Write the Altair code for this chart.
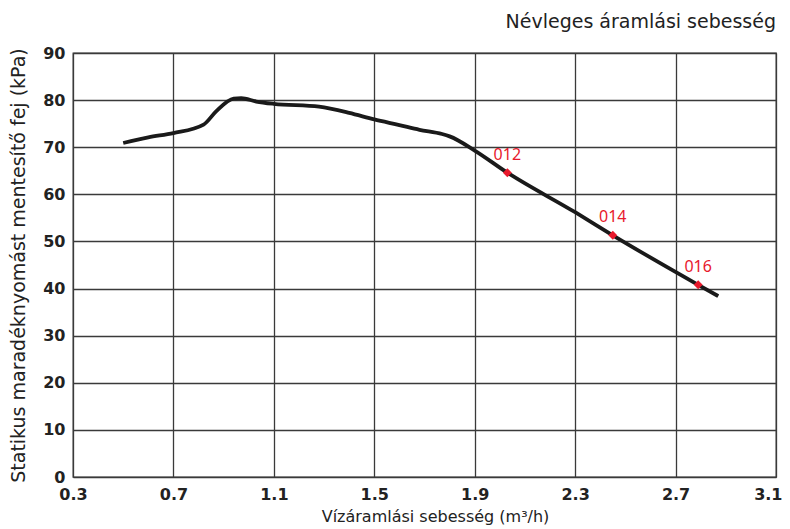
import altair as alt
import pandas as pd

# Curve
flow = [0.5, 0.6, 0.7, 0.82, 0.87, 0.94, 0.97, 1.03, 1.1, 1.28, 1.4, 1.5, 1.6,
        1.68, 1.77, 1.8, 1.9, 2.03, 2.3, 2.45, 2.79, 2.87]
head = [70.9, 72.1, 73.0, 74.8, 77.6, 80.3, 80.4, 79.7, 79.2, 78.6, 77.3, 75.9,
        74.7, 73.7, 72.8, 72.3, 69.3, 64.6, 56.2, 51.3, 40.8, 38.4]

# Nominal flow points
point_labels = ["012", "014", "016"]
point_flow = [2.03, 2.45, 2.79]
point_head = [64.6, 51.3, 40.8]

x_ticks = [0.3, 0.7, 1.1, 1.5, 1.9, 2.3, 2.7, 3.1]
y_ticks = [0, 10, 20, 30, 40, 50, 60, 70, 80, 90]

curve = pd.DataFrame({"flow": flow, "head": head})
pts = pd.DataFrame({"label": point_labels, "flow": point_flow, "head": point_head})

xscale = alt.Scale(domain=[0.3, 3.1], nice=False, zero=False)
yscale = alt.Scale(domain=[0, 90], nice=False)

GRID = "#3a3a3a"

xaxis = alt.Axis(
    values=x_ticks, format=".1f", grid=True,
    gridColor=GRID, gridOpacity=1, gridWidth=1.3, domain=False,
    title="Vízáramlási sebesség (m³/h)",
    titleX=362, titleY=44, titleAlign="center", titleBaseline="alphabetic",
    titleFont="DejaVu Sans", titleFontSize=16, titleFontWeight="normal", titleColor="#222222",
    labelFont="DejaVu Sans", labelFontSize=16, labelFontWeight="bold", labelColor="#222222",
    labelPadding=9, ticks=False, labelFlush=False, labelOverlap=False,
    labelAlign=alt.condition("datum.value > 3", alt.value("right"), alt.value("center")),
    labelOffset=alt.condition("datum.value > 3", alt.value(6), alt.value(0)),
)
yaxis = alt.Axis(
    values=y_ticks, grid=True,
    gridColor=GRID, gridOpacity=1, gridWidth=1.3, domain=False,
    title="Statikus maradéknyomást mentesítő fej (kPa)",
    titleX=-55, titleY=212, titleAlign="center", titleBaseline="middle", titleAngle=-90,
    titleFont="DejaVu Sans", titleFontSize=19, titleFontWeight="normal", titleColor="#222222",
    labelFont="DejaVu Sans", labelFontSize=16, labelFontWeight="bold", labelColor="#222222",
    labelPadding=8, ticks=False, labelFlush=False, labelOverlap=False,
)

line = alt.Chart(curve).mark_line(
    color="#1a1a1a", strokeWidth=3.8, interpolate="monotone"
).encode(
    x=alt.X("flow:Q", scale=xscale, axis=xaxis),
    y=alt.Y("head:Q", scale=yscale, axis=yaxis),
)

markers = alt.Chart(pts).mark_point(
    shape="diamond", filled=True, size=80, color="#e8192c", opacity=1
).encode(
    x=alt.X("flow:Q", scale=xscale),
    y=alt.Y("head:Q", scale=yscale),
)

labels = alt.Chart(pts).mark_text(
    color="#e8192c", font="Noto Sans", fontSize=16, dy=-10, baseline="bottom", align="center"
).encode(
    x=alt.X("flow:Q", scale=xscale),
    y=alt.Y("head:Q", scale=yscale),
    text="label:N",
)

chart = alt.layer(line, markers, labels).properties(
    width=703, height=424,
    background="white",
    autosize=alt.AutoSizeParams(type="none"),
    padding={"left": 65, "top": 45, "right": 6, "bottom": 50},
    title=alt.TitleParams(
        "Névleges áramlási sebesség", anchor="end", frame="group", font="DejaVu Sans",
        fontSize=19, fontWeight="normal", color="#222222", offset=13,
    ),
).configure_view(
    stroke=GRID, strokeWidth=1.3
)

chart.save("out.html", embed_options={"renderer": "svg", "actions": False})
